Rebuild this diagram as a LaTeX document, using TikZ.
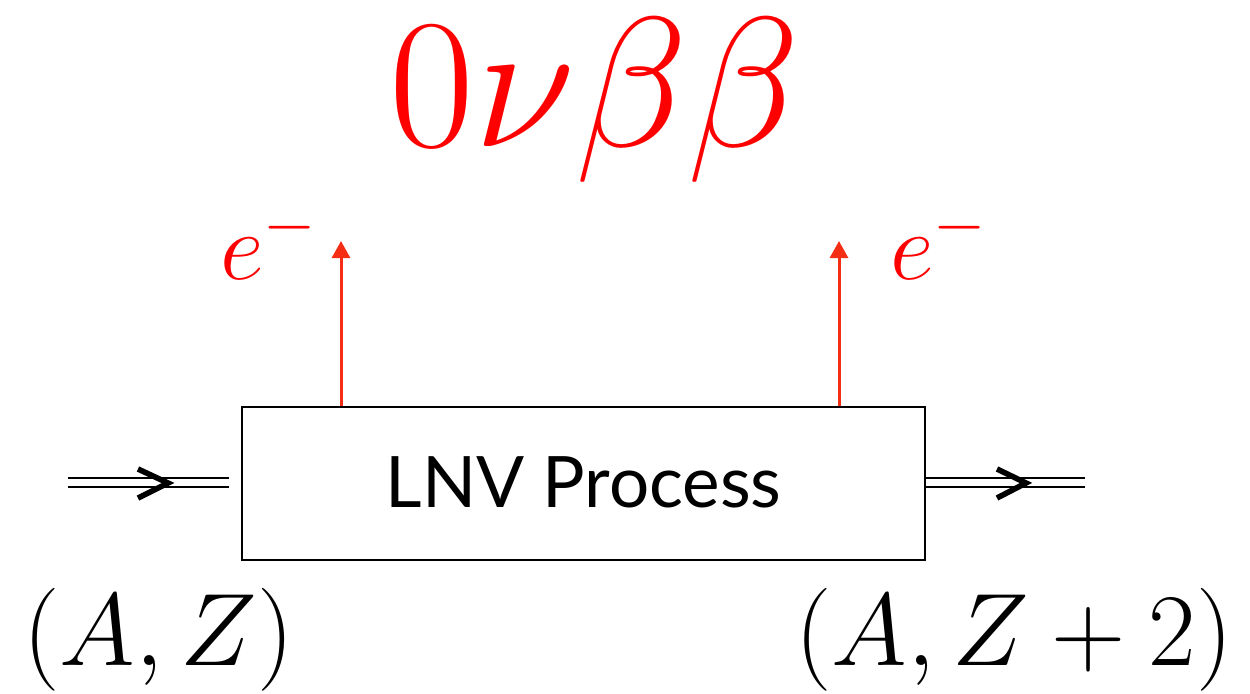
\RequirePackage{fix-cm}
\documentclass[tikz,border=0pt]{standalone}
\usepackage{fontspec}
\newfontfamily\boxfont{Lato}
\usetikzlibrary{arrows.meta,calc}
\definecolor{arrowred}{RGB}{245,45,20}
\definecolor{textred}{RGB}{255,0,0}
\tikzset{
  procbox/.style={draw=black, line width=0.8pt, minimum width=341.5pt, minimum height=76.5pt, inner sep=0pt, font=\boxfont\fontsize{35.5}{40}\selectfont},
  nucline/.style={draw=black, line width=1pt, double=white, double distance=3.5pt},
  chevron/.style={draw=black, line width=2.8pt, line join=miter, line cap=butt},
  elecarrow/.style={draw=arrowred, line width=1.5pt, -{Triangle[length=8.5pt,width=9pt]}},
  elabel/.style={text=textred, inner sep=0pt, anchor=base west, font=\fontsize{48}{52}\selectfont},
  nuclabel/.style={text=black, inner sep=0pt, anchor=base west, font=\fontsize{51.5}{56}\selectfont},
  titlelabel/.style={text=textred, inner sep=0pt, anchor=base, font=\fontsize{92.5}{100}\selectfont}
}
\begin{document}
\begin{tikzpicture}[x=0.5pt,y=-0.5pt]
\useasboundingbox (0,0) rectangle (1250,693);
% title
\node[titlelabel] (title) at (595,146) {$0\nu\beta\beta$};
% process box
\node[procbox] (box) at (583.5,483.5) {\raisebox{1.5pt}{LNV Process}};
% electron arrows
\coordinate (eLtip) at (341,241);
\coordinate (eRtip) at (839,241);
\draw[elecarrow] (eLtip |- box.north) -- (eLtip);
\draw[elecarrow] (eRtip |- box.north) -- (eRtip);
\node[elabel] (eL) at (220,279) {$e^-$};
\node[elabel] (eR) at (890,279) {$e^-$};
% nucleus lines
\coordinate (inL) at (68,482.5);
\coordinate (outR) at (1085,482.5);
\draw[nucline, shorten >=6pt] (inL) -- (box.west |- inL);
\draw[nucline] (box.east |- outR) -- (outR);
\coordinate (chevL) at (168,483);
\coordinate (chevR) at (1026,483);
\draw[chevron] ($(chevL)+(-30,-14)$) -- (chevL) -- ($(chevL)+(-30,15)$);
\draw[chevron] ($(chevR)+(-29,-14)$) -- (chevR) -- ($(chevR)+(-29,15)$);
% nucleus labels
\node[nuclabel] (AZ) at (23,665) {$(A,Z)$};
\node[nuclabel] (AZ2) at (795,665) {$(A,Z+2)$};
\end{tikzpicture}
\end{document}
